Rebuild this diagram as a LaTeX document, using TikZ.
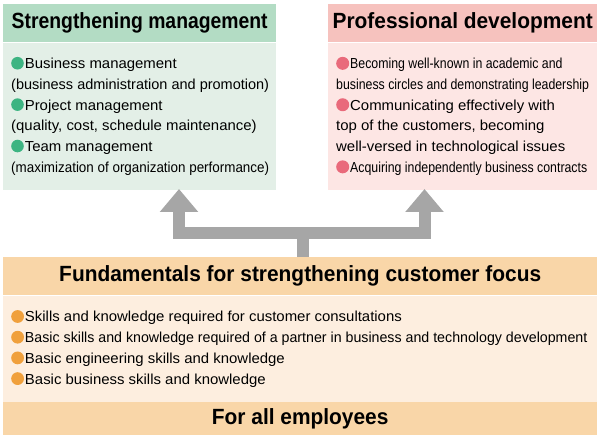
\documentclass[tikz,border=0pt]{standalone}
\usepackage{fontspec}
\setmainfont{Liberation Sans}
\newfontfamily\bodyfont{Liberation Sans}[FakeStretch=1.03]
\newfontfamily\narrowfont{Liberation Sans}[FakeStretch=0.85]
\newfontfamily\headfont{Liberation Sans}[FakeStretch=0.95]
\newfontfamily\narrowheadfont{Liberation Sans}[FakeStretch=0.88]
\usetikzlibrary{positioning,arrows.meta}

\definecolor{greenhead}{HTML}{B3DCC4}
\definecolor{greenbody}{HTML}{E3EFE7}
\definecolor{greendot}{HTML}{3DB482}
\definecolor{pinkhead}{HTML}{F6C2BE}
\definecolor{pinkbody}{HTML}{FDE6E4}
\definecolor{pinkdot}{HTML}{E96A7B}
\definecolor{orangehead}{HTML}{F9D6A8}
\definecolor{orangebody}{HTML}{FDEEDF}
\definecolor{orangedot}{HTML}{F0A03C}
\definecolor{arrowgray}{HTML}{A6A6A6}

\newcommand{\greenbul}{\tikz[baseline=-5.5pt]\fill[greendot] (0,0) circle[radius=6.3pt];\hspace{1pt}}
\newcommand{\pinkbul}{\tikz[baseline=-5.5pt]\fill[pinkdot] (0,0) circle[radius=6.5pt];\hspace{1pt}}
\newcommand{\orangebul}{\tikz[baseline=-5.5pt]\fill[orangedot] (0,0) circle[radius=6.4pt];\hspace{1pt}}
\newcommand{\squeeze}[2]{{\addfontfeature{FakeStretch=#1}#2}}

\tikzset{
  headbox/.style={fill=#1, minimum height=38pt, inner sep=0pt, font=\headfont\bfseries\fontsize{22}{24}\selectfont},
  bodybox/.style={fill=#1, inner sep=0pt},
  bodytext/.style={align=left, inner sep=0pt, anchor=west, font=\bodyfont\fontsize{14.5}{20.7}\selectfont},
  bigarrow/.style={draw=arrowgray, line width=12pt, line join=miter, -{Triangle[width=37pt,length=23pt]}}
}

\begin{document}
\begin{tikzpicture}[x=1pt,y=1pt]
    \useasboundingbox (0,0) rectangle (597,-435);

    % top left box
    \node (mgmthead) [headbox=greenhead, minimum width=273pt, anchor=north west] at (3,-4) {\narrowheadfont Strengthening management};
    \node (mgmtbody) [bodybox=greenbody, minimum width=273pt, minimum height=147pt, below=0pt of mgmthead] {};
    \node (mgmttext) [bodytext] at ([xshift=8pt]mgmtbody.west) {\greenbul Business management\\
        \squeeze{1.0}{(business administration and promotion)}\\
        \greenbul Project management\\
        (quality, cost, schedule maintenance)\\
        \greenbul Team management\\
        \squeeze{0.925}{(maximization of organization performance)}};

    % top right box
    \node (devhead) [headbox=pinkhead, minimum width=269pt, anchor=north west] at (328,-4) {Professional development};
    \node (devbody) [bodybox=pinkbody, minimum width=269pt, minimum height=147pt, below=0pt of devhead] {};
    \node (devtext) [bodytext] at ([xshift=8pt]devbody.west) {\pinkbul{\narrowfont Becoming well-known in academic and}\\
        {\narrowfont business circles and demonstrating leadership}\\
        \pinkbul Communicating effectively with\\
        top of the customers, becoming\\
        well-versed in technological issues\\
        \pinkbul{\narrowfont Acquiring independently business contracts}};

    % bottom block
    \node (fundhead) [headbox=orangehead, minimum width=594pt, anchor=north west] at (3,-257) {Fundamentals for strengthening customer focus};
    \node (fundbody) [bodybox=orangebody, minimum width=594pt, minimum height=106pt, below=0pt of fundhead] {};
    \node (fundtext) [bodytext] at ([xshift=8pt]fundbody.west) {\orangebul Skills and knowledge required for customer consultations\\
        \orangebul\squeeze{0.98}{Basic skills and knowledge required of a partner in business and technology development}\\
        \orangebul Basic engineering skills and knowledge\\
        \orangebul Basic business skills and knowledge};
    \node (allemp) [headbox=orangehead, minimum width=594pt, minimum height=34pt, below=0pt of fundbody] {For all employees};

    % arrows up to the two boxes
    \coordinate (mgmttip) at (179,-189);
    \coordinate (devtip) at (424.5,-189);
    \draw[bigarrow] ([xshift=2.5pt]fundhead.north) -- ++(0,24) -| (mgmttip);
    \draw[bigarrow] ([xshift=2.5pt]fundhead.north) -- ++(0,24) -| (devtip);
\end{tikzpicture}
\end{document}
